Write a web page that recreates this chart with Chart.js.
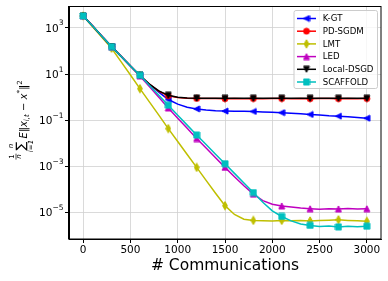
<!DOCTYPE html>
<html lang="en">
<head>
<meta charset="UTF-8">
<title>Communications</title>
<style>
  html, body { margin: 0; padding: 0; background: #fff; }
  #wrap { width: 388px; height: 281px; position: relative; }
</style>
</head>
<body>
<div id="wrap"><canvas id="myChart"></canvas></div>

<script src="https://cdn.jsdelivr.net/npm/chart.js"></script>
<script>
// x = number of communications, one sample every 100 (markers every 300)
const steps = [0, 100, 200, 300, 400, 500, 600, 700, 800, 900, 1000,
               1100, 1200, 1300, 1400, 1500, 1600, 1700, 1800, 1900, 2000,
               2100, 2200, 2300, 2400, 2500, 2600, 2700, 2800, 2900, 3000];

const xTicks = [0, 500, 1000, 1500, 2000, 2500, 3000];
const yTicks = [1e-5, 1e-3, 1e-1, 1e1, 1e3];
const yTickExp = ['\u22125', '\u22123', '\u22121', '1', '3'];

const kgt = [3300, 1200, 427, 155, 59, 22.4, 8.7,
             3.63, 1.66, 0.79, 0.50, 0.37, 0.31, 0.28, 0.26, 0.25, 0.245, 0.243,
             0.24, 0.23, 0.221, 0.214, 0.2, 0.19, 0.178, 0.17, 0.158, 0.151, 0.141, 0.132, 0.123];
const pdsgdm = [3300, 1200, 427, 155, 59, 22.4, 8.7,
                3.65, 1.8, 1.15, 0.97, 0.9, 0.88,
                0.87, 0.87, 0.86, 0.87, 0.86, 0.87, 0.86, 0.87, 0.87, 0.86,
                0.87, 0.86, 0.87, 0.87, 0.86, 0.87, 0.86, 0.87];
const lmt = [3300, 1122, 380, 132, 34.7, 9.1, 2.34,
             0.63, 0.166, 0.0437, 0.012, 3.3e-3, 9.1e-4, 2.5e-4, 6.9e-5, 2.0e-5,
             8.3e-6, 5.2e-6, 4.6e-6, 4.45e-6, 4.35e-6, 4.6e-6, 4.4e-6, 4.5e-6,
             4.35e-6, 4.6e-6, 4.7e-6, 4.9e-6, 4.6e-6, 4.4e-6, 4.2e-6];
const led = [3300, 1200, 427, 155, 59, 22.4, 8.3,
             2.9, 1.0, 0.34, 0.123, 0.0447, 0.0162, 6.3e-3, 2.4e-3, 9.1e-4,
             3.6e-4, 1.45e-4, 6.3e-5, 3.3e-5, 2.3e-5, 1.95e-5, 1.74e-5, 1.58e-5,
             1.48e-5, 1.41e-5, 1.48e-5, 1.45e-5, 1.51e-5, 1.45e-5, 1.48e-5];
const localDsgd = [3300, 1200, 427, 155, 59, 22.4, 8.7,
                   3.7, 1.86, 1.2, 1.0, 0.93, 0.91,
                   0.9, 0.89, 0.89, 0.9, 0.89, 0.89, 0.9, 0.89, 0.89, 0.89,
                   0.9, 0.89, 0.89, 0.9, 0.89, 0.89, 0.9, 0.89];
const scaffold = [3300, 1200, 427, 155, 59, 22.4, 8.9,
                  3.3, 1.2, 0.45, 0.166, 0.0617, 0.0229, 8.9e-3, 3.4e-3, 1.32e-3,
                  5.0e-4, 1.9e-4, 7.4e-5, 2.8e-5, 1.2e-5, 6.8e-6, 4.4e-6, 3.2e-6,
                  2.8e-6, 2.5e-6, 2.6e-6, 2.4e-6, 2.57e-6, 2.45e-6, 2.57e-6];

const names = ['K-GT', 'PD-SGDM', 'LMT', 'LED', 'Local-DSGD', 'SCAFFOLD'];
const values = [kgt, pdsgdm, lmt, led, localDsgd, scaffold];
const colors = ['#0000ff', '#ff0000', '#bfbf00', '#bf00bf', '#000000', '#00bfbf'];
const shapes = ['left', 'circle', 'thin', 'up', 'down', 'square'];

const FONT = '"DejaVu Sans", sans-serif';

// matplotlib-like marker glyphs
function marker(shape, color) {
    const c = document.createElement('canvas');
    const w = shape === 'thin' ? 6 : 8;
    const h = shape === 'thin' ? 10 : 8;
    c.width = w; c.height = h;
    const g = c.getContext('2d');
    g.fillStyle = color; g.strokeStyle = color; g.lineWidth = 1;
    const cx = w / 2, cy = h / 2, r = 3;
    g.beginPath();
    if (shape === 'circle') g.arc(cx, cy, 3, 0, Math.PI * 2);
    else if (shape === 'left') { g.moveTo(cx - r, cy); g.lineTo(cx + r, cy - r); g.lineTo(cx + r, cy + r); }
    else if (shape === 'up') { g.moveTo(cx, cy - r); g.lineTo(cx + r, cy + r); g.lineTo(cx - r, cy + r); }
    else if (shape === 'down') { g.moveTo(cx, cy + r); g.lineTo(cx + r, cy - r); g.lineTo(cx - r, cy - r); }
    else if (shape === 'square') g.rect(cx - r, cy - r, 2 * r, 2 * r);
    else if (shape === 'thin') { g.moveTo(cx, cy - 4.2); g.lineTo(cx + 2.4, cy); g.lineTo(cx, cy + 4.2); g.lineTo(cx - 2.4, cy); }
    g.closePath(); g.fill(); g.stroke();
    return c;
}
const markers = shapes.map((s, i) => marker(s, colors[i]));

const datasets = names.map((name, i) => ({
    label: name,
    data: steps.map((x, j) => ({ x: x, y: values[i][j] })),
    borderColor: colors[i],
    backgroundColor: colors[i],
    borderWidth: 1.5,
    tension: 0,
    fill: false,
    pointStyle: markers[i],
    pointRadius: ctx => (ctx.dataIndex % 3 === 0 ? 4 : 0),
    pointHoverRadius: 0,
    order: names.length - i   // later series on top, like matplotlib
}));

function drawYLabel(ctx) {
    ctx.save();
    ctx.translate(26.5, 120);
    ctx.rotate(-Math.PI / 2);
    ctx.fillStyle = '#000';
    ctx.strokeStyle = '#000';
    ctx.textBaseline = 'alphabetic';
    ctx.textAlign = 'left';
    const f = (sz, it) => (it ? 'italic ' : '') + sz + 'px ' + FONT;
    const width = (t, font) => { ctx.font = font; return ctx.measureText(t).width; };

    const main = [
        ['E', f(10, true), 0], ['\u2016', f(10), 0], ['x', f(10, true), 0],
        ['i,t', f(7, true), 2.5], [' \u2212 ', f(10), 0], ['x', f(10, true), 0],
        ['*', f(7.5), -4.5], ['\u2016', f(10), 0], ['2', f(7), -5]
    ];
    const fracW = Math.max(width('1', f(7)), width('n', f(7, true))) + 1.5;
    const sigW = Math.max(width('\u2211', f(13)), width('i=1', f(7, true)));
    let mainW = 0;
    main.forEach(p => { mainW += width(p[0], p[1]); });
    const total = fracW + 1.5 + sigW + 1.5 + mainW;
    let u = -total / 2;

    // 1/n
    ctx.font = f(7);
    ctx.fillText('1', u + (fracW - width('1', f(7))) / 2, -12.5);
    ctx.font = f(7, true);
    ctx.fillText('n', u + (fracW - width('n', f(7, true))) / 2, -5.5);
    ctx.lineWidth = 0.7;
    ctx.beginPath(); ctx.moveTo(u, -10.5); ctx.lineTo(u + fracW, -10.5); ctx.stroke();
    u += fracW + 1.5;

    // sum with limits
    const sw = width('\u2211', f(13));
    ctx.font = f(13);
    ctx.fillText('\u2211', u + (sigW - sw) / 2, -1.5);
    ctx.font = f(7, true);
    ctx.fillText('n', u + (sigW - width('n', f(7, true))) / 2, -14);
    ctx.fillText('i=1', u + (sigW - width('i=1', f(7, true))) / 2, 6.5);
    u += sigW + 1.5;

    main.forEach(p => {
        ctx.font = p[1];
        ctx.fillText(p[0], u, p[2]);
        u += ctx.measureText(p[0]).width;
    });
    ctx.restore();
}

function drawLegend(ctx) {
    const x0 = 294, y0 = 10.5, x1 = 377.5, y1 = 88.5;
    ctx.save();
    ctx.fillStyle = 'rgba(255,255,255,0.8)';
    ctx.strokeStyle = '#cccccc';
    ctx.lineWidth = 1;
    ctx.beginPath();
    ctx.roundRect(x0, y0, x1 - x0, y1 - y0, 2);
    ctx.fill(); ctx.stroke();
    ctx.font = '8.6px ' + FONT;
    ctx.textBaseline = 'middle';
    ctx.textAlign = 'left';
    names.forEach((name, i) => {
        const y = 18.5 + i * 12.7;
        ctx.strokeStyle = colors[i];
        ctx.lineWidth = 1.5;
        ctx.beginPath(); ctx.moveTo(297, y); ctx.lineTo(316, y); ctx.stroke();
        const m = markers[i];
        ctx.drawImage(m, 306.5 - m.width / 2, y - m.height / 2);
        ctx.fillStyle = '#000';
        ctx.fillText(name, 322.7, y + 0.5);
    });
    ctx.restore();
}

const decor = {
    id: 'decor',
    afterDatasetsDraw(chart) {
        const { ctx, chartArea: a } = chart;
        ctx.save();
        ctx.strokeStyle = '#000';
        ctx.lineWidth = 1;
        ctx.strokeRect(Math.round(a.left) - 0.5, Math.round(a.top) + 0.5,
                       Math.round(a.right - a.left) + 0.5, Math.round(a.bottom - a.top) - 0.5);
        ctx.restore();
    },
    afterDraw(chart) {
        const { ctx, chartArea: a, scales } = chart;
        ctx.save();
        ctx.fillStyle = '#000';
        // x tick labels
        ctx.font = '10.5px ' + FONT;
        ctx.textAlign = 'center';
        ctx.textBaseline = 'middle';
        xTicks.forEach(v => ctx.fillText(String(v), scales.x.getPixelForValue(v), 250));
        // y tick labels 10^k
        yTicks.forEach((v, i) => {
            const y = scales.y.getPixelForValue(v);
            ctx.font = '7.5px ' + FONT;
            const ew = ctx.measureText(yTickExp[i]).width;
            ctx.textAlign = 'left';
            ctx.textBaseline = 'alphabetic';
            ctx.fillText(yTickExp[i], 63.5 - ew, y - 2.5);
            ctx.font = '10.5px ' + FONT;
            ctx.textAlign = 'right';
            ctx.fillText('10', 63.5 - ew, y + 3.8);
        });
        // x title
        ctx.font = '15.5px ' + FONT;
        ctx.textAlign = 'center';
        ctx.textBaseline = 'middle';
        ctx.fillText('# Communications', 225, 266);
        ctx.restore();
        drawYLabel(ctx);
        drawLegend(ctx);
    }
};

const gridOpts = { color: '#d0d0d0', lineWidth: 0.8, tickColor: '#000', tickLength: 4, tickWidth: 1 };

new Chart(document.getElementById('myChart'), {
    type: 'line',
    data: { datasets: datasets },
    plugins: [decor],
    options: {
        responsive: true,
        maintainAspectRatio: false,
        animation: false,
        layout: { padding: { left: 65, right: 7, top: 6, bottom: 38 } },
        plugins: { legend: { display: false }, tooltip: { enabled: false } },
        scales: {
            x: {
                type: 'linear', min: -150, max: 3150,
                afterBuildTicks: s => { s.ticks = xTicks.map(v => ({ value: v })); },
                ticks: { display: false },
                grid: gridOpts,
                border: { color: '#000', width: 1 }
            },
            y: {
                type: 'logarithmic', min: 7.2e-7, max: 8.9e3,
                afterBuildTicks: s => { s.ticks = yTicks.map(v => ({ value: v })); },
                ticks: { display: false },
                grid: gridOpts,
                border: { color: '#000', width: 1 }
            }
        }
    }
});
</script>
</body>
</html>
